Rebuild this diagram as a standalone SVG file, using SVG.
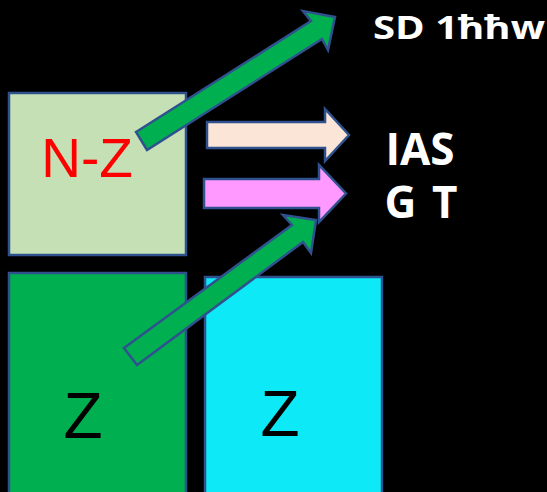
<svg xmlns="http://www.w3.org/2000/svg" width="547" height="492" viewBox="0 0 547 492">
<style>
.box{stroke:#2f528f;stroke-width:2.5}
.arr{stroke:#2f528f;stroke-width:2.5;stroke-linejoin:miter}
.lbl{font-family:"Liberation Sans","Open Sans",sans-serif;text-anchor:middle}
.wt{font-family:"Open Sans","Liberation Sans",sans-serif;fill:#ffffff;font-weight:bold}
</style>
<rect width="547" height="492" fill="#000000"/>
<g id="node-nz">
<rect class="box" x="9" y="93" width="177" height="162" fill="#c5e0b4"/>
<text class="lbl" x="87" y="177" font-size="55" fill="#ff0000">N-Z</text>
</g>
<g id="node-z1">
<rect class="box" x="9" y="273" width="177" height="225" fill="#00b050"/>
<text class="lbl" x="83" y="438" font-size="64" fill="#000000">Z</text>
</g>
<g id="node-z2">
<rect class="box" x="205" y="277" width="177" height="221" fill="#0de9f6"/>
<text class="lbl" x="280" y="436" font-size="64" fill="#000000">Z</text>
</g>
<g id="node-sd">
<text class="wt" x="373" y="39" font-size="32" textLength="172" lengthAdjust="spacingAndGlyphs">SD 1ħħw</text>
</g>
<g id="node-ias">
<text class="wt" x="420" y="165" font-size="44" text-anchor="middle">IAS</text>
<text class="wt" x="421" y="218" font-size="44" text-anchor="middle" font-weight="600" word-spacing="4">G T</text>
</g>
<g id="connectors">
<polygon class="arr" fill="#00b050" points="136,132 311,21 303,11 335,17 328,50 322,39 147,150"/>
<polygon class="arr" fill="#fbe5d6" points="207,122 325,122 325,109 349,135 325,161 325,148 207,148"/>
<polygon class="arr" fill="#ff99ff" points="204,179 319,179 319,165 346,193.5 319,222 319,208 204,208"/>
<polygon class="arr" fill="#00b050" points="124,348 292,225 283,215 316,220 311,253 303,242 137,365"/>
</g>
</svg>
